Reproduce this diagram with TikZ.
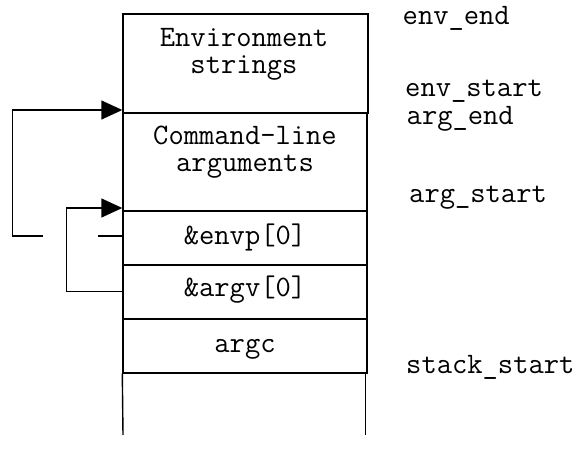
\documentclass[tikz,border=0pt]{standalone}
\usepackage{fontspec}
\usetikzlibrary{arrows.meta}
\begin{document}
\begin{tikzpicture}[x=1pt,y=-1pt,
  box/.style={draw,line width=1.4pt,rectangle,inner sep=0pt},
  txt/.style={font=\ttfamily\fontsize{29.7}{26.7}\selectfont,inner sep=0pt,anchor=base,align=center},
  lbl/.style={txt,anchor=base west},
  conn/.style={line width=1.4pt},
  arr/.style={conn,-{Triangle[length=21pt,width=19pt]}}]
\useasboundingbox (0,0) rectangle (580,462);
% stack boxes
\node[box,minimum width=245pt,minimum height=99pt] (env) at (245.5,63.5) {};
\node[box,minimum width=244pt,minimum height=98pt] (arg) at (245,162) {};
\node[box,minimum width=244pt,minimum height=54pt] (envp) at (245,238) {};
\node[box,minimum width=244pt,minimum height=54pt] (argv) at (245,292) {};
\node[box,minimum width=244pt,minimum height=54pt] (argc) at (245,346) {};
\coordinate (bl) at (123,435);
\coordinate (br) at (365.5,435);
\draw[conn] (argc.south west) -- (bl);
\draw[conn] (argc.south east -| br) -- (br);
% texts (base = last line's baseline)
\node[txt] (t1) at (244,73.3) {Environment\\strings};
\node[txt] (t3) at (245,171.7) {Command-line\\arguments};
\node[txt] (t5) at (245,244.3) {\&envp[0]};
\node[txt] (t6) at (245,296.7) {\&argv[0]};
\node[txt] (t7) at (245,352) {argc};
% right labels
\node[lbl] (l1) at (402.5,25) {env\_end};
\node[lbl] (l2) at (405,96.7) {env\_start};
\node[lbl] (l3) at (406.5,124.3) {arg\_end};
\node[lbl] (l4) at (409,202.7) {arg\_start};
\node[lbl] (l5) at (406,373.3) {stack\_start};
% connectors
\coordinate (o1) at (98,236);
\coordinate (o2) at (43,236);
\coordinate (o3) at (12.7,236);
\coordinate (o4) at (12.7,110);
\draw[conn] (envp.west |- o1) -- (o1);
\draw[arr] (o2) -- (o3) -- (o4) -- (o4 -| env.south west);
\coordinate (i1) at (66.7,291.7);
\coordinate (i2) at (66.7,208);
\draw[arr] (argv.west |- i1) -- (i1) -- (i2) -- (i2 -| arg.south west);
\end{tikzpicture}
\end{document}
